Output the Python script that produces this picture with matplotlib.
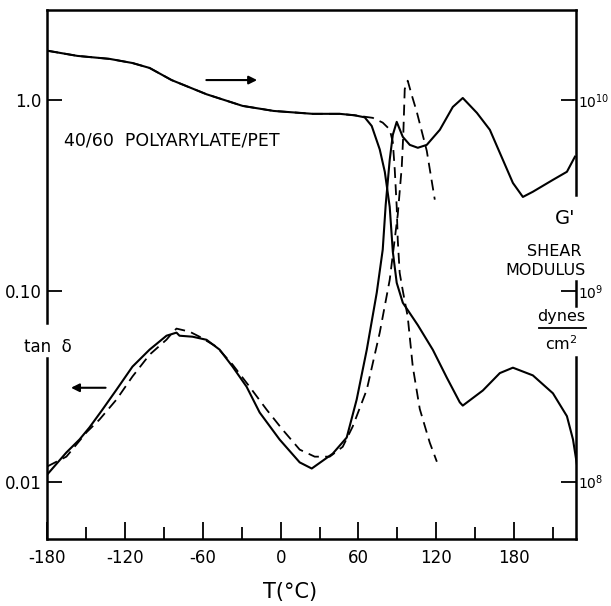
import numpy as np
import matplotlib
matplotlib.use('Agg')
import matplotlib.pyplot as plt
from matplotlib.ticker import FixedLocator, MultipleLocator, NullLocator

plt.rcParams['font.family'] = ['DejaVu Sans']

# tan delta, solid curve
T_tan_s = [-180.1, -165.4, -155.3, -147.6, -137.6, -126.7, -114.4, -101.2, -88.1, -80.4,
           -78.1, -68.0, -57.2, -47.1, -37.1, -26.3, -16.2, -0.8, 14.7, 24.0,
           40.2, 51.0, 58.7, 66.5, 74.2, 78.8, 81.1, 84.2, 86.6, 89.6,
           94.3, 99.7, 105.9, 112.8, 122.9, 132.9, 140.6, 151.5, 161.5, 169.2,
           179.3, 187.0, 194.7, 210.2, 221.0, 227.2]
tan_s = [0.0109, 0.0142, 0.0166, 0.0192, 0.0238, 0.0303, 0.0400, 0.0491, 0.0581, 0.0603,
         0.0581, 0.0574, 0.0553, 0.0491, 0.0400, 0.0314, 0.0230, 0.0166, 0.0126, 0.0117,
         0.0140, 0.0170, 0.0269, 0.0491, 0.0977, 0.164, 0.282, 0.485, 0.656, 0.767,
         0.640, 0.581, 0.561, 0.581, 0.697, 0.918, 1.023, 0.855, 0.697, 0.528,
         0.367, 0.310, 0.330, 0.381, 0.420, 0.504]

# tan delta, dashed curve
T_tan_d = [-180.1, -165.4, -149.9, -139.9, -126.7, -114.4, -101.2, -88.1, -83.5, -80.4,
           -70.3, -62.6, -49.5, -37.1, -24.0, -10.8, 1.5, 14.7, 26.3, 37.9,
           47.9, 55.6, 66.5, 76.5, 84.2, 90.4, 93.5, 94.7, 95.8, 98.1,
           101.2, 105.1, 112.8, 119.0]
tan_d = [0.0120, 0.0135, 0.0181, 0.0211, 0.0269, 0.0355, 0.0462, 0.0554, 0.0603, 0.0633,
         0.0610, 0.0574, 0.0509, 0.0410, 0.0314, 0.0238, 0.0187, 0.0147, 0.0135, 0.0135,
         0.0152, 0.0194, 0.0303, 0.0603, 0.114, 0.250, 0.446, 0.664, 1.14, 1.26,
         1.06, 0.865, 0.541, 0.300]

# shear modulus G' (dynes/cm2), solid curve
T_G_s = [-180.1, -156.9, -132.1, -114.4, -101.2, -84.2, -57.2, -29.4, -5.4, 24.7,
         45.6, 57.2, 64.9, 70.3, 76.5, 80.4, 84.2, 86.6, 89.6, 94.3,
         105.9, 117.5, 128.3, 138.3, 140.6, 156.1, 169.2, 179.3, 194.7, 210.2,
         221.0, 225.7, 228.7]
G_s = [1.81e10, 1.70e10, 1.64e10, 1.56e10, 1.47e10, 1.27e10, 1.07e10, 9.3e9, 8.75e9, 8.45e9,
       8.45e9, 8.3e9, 8.1e9, 7.3e9, 5.5e9, 4.2e9, 2.75e9, 1.6e9, 1.1e9, 8.65e8,
       6.6e8, 4.9e8, 3.5e8, 2.6e8, 2.5e8, 3.0e8, 3.7e8, 3.95e8, 3.6e8, 2.9e8,
       2.2e8, 1.66e8, 1.23e8]

# shear modulus G', dashed curve
T_G_d = [-180.1, -156.9, -132.1, -114.4, -101.2, -84.2, -57.2, -29.4, -5.4, 24.7,
         45.6, 57.2, 71.1, 78.8, 84.2, 86.6, 88.1, 89.6, 90.4, 91.9,
         94.3, 98.1, 102.0, 107.4, 115.1, 120.6]
G_d = [1.81e10, 1.70e10, 1.64e10, 1.56e10, 1.47e10, 1.27e10, 1.07e10, 9.3e9, 8.75e9, 8.45e9,
       8.45e9, 8.3e9, 8.05e9, 7.6e9, 7.0e9, 6.0e9, 4.3e9, 2.75e9, 1.85e9, 1.24e9,
       1.0e9, 7.3e8, 4.0e8, 2.4e8, 1.6e8, 1.27e8]

xticks = [-180, -120, -60, 0, 60, 120, 180]
xticklabels = ['-180', '-120', '-60', '0', '60', '120', '180']
tan_ticks = [0.01, 0.1, 1.0]
tan_ticklabels = ['0.01', '0.10', '1.0']
G_ticks = [1e8, 1e9, 1e10]
G_ticklabels = ['$\\mathregular{10^8}$', '$\\mathregular{10^9}$', '$\\mathregular{10^{10}}$']

fig = plt.figure(figsize=(6.11, 6.06), dpi=100)
ax = fig.add_axes([0.0777, 0.1106, 0.865, 0.873])
ax2 = ax.twinx()

ax.plot(T_tan_s, tan_s, color='black', lw=1.5)
ax.plot(T_tan_d, tan_d, color='black', lw=1.3, linestyle=(0, (6, 3.5)))
ax2.plot(T_G_s, G_s, color='black', lw=1.5)
ax2.plot(T_G_d, G_d, color='black', lw=1.3, linestyle=(0, (6, 3.5)))

ax.set_yscale('log')
ax2.set_yscale('log')
ax.set_xlim(-180, 228)
ax.set_ylim(0.005, 2.96)
ax2.set_ylim(5e7, 2.96e10)

ax.xaxis.set_major_locator(FixedLocator(xticks))
ax.set_xticklabels(xticklabels, fontsize=12)
ax.xaxis.set_minor_locator(MultipleLocator(30))
ax.yaxis.set_major_locator(FixedLocator(tan_ticks))
ax.yaxis.set_minor_locator(NullLocator())
ax.set_yticklabels(tan_ticklabels, fontsize=12)
ax2.yaxis.set_major_locator(FixedLocator(G_ticks))
ax2.yaxis.set_minor_locator(NullLocator())
ax2.set_yticklabels(G_ticklabels, fontsize=10)

ax.tick_params(axis='x', which='major', direction='in', length=12, width=1.3, pad=7)
ax.tick_params(axis='x', which='minor', direction='in', length=8.5, width=1.3)
ax.tick_params(axis='y', which='major', direction='in', length=10.5, width=1.3, pad=4)
ax2.tick_params(axis='y', which='major', direction='in', length=10.5, width=1.3, pad=1.5)

for s in ['left', 'right']:
    ax.spines[s].set_visible(False)
for s in ax2.spines.values():
    s.set_visible(False)
ax.spines['top'].set_linewidth(1.8)
ax.spines['bottom'].set_linewidth(1.8)

# broken side spines (gaps behind the labels)
for x0, y0, y1 in [(0, 1.0, 0.408), (0, 0.342, 0.0),
                   (1, 1.0, 0.650), (1, 0.488, 0.440), (1, 0.344, 0.0)]:
    ax.plot([x0, x0], [y0, y1], transform=ax.transAxes, color='black', lw=1.8,
            clip_on=False, solid_capstyle='projecting')

ax.text(-167, 0.61, '40/60  POLYARYLATE/PET', fontsize=12.5, ha='left', va='center')
ax.annotate('', xy=(-16, 1.27), xytext=(-59.5, 1.27),
            arrowprops=dict(arrowstyle='-|>', color='black', lw=1.5, mutation_scale=12))
ax.annotate('', xy=(-164, 0.031), xytext=(-133, 0.031),
            arrowprops=dict(arrowstyle='-|>', color='black', lw=1.5, mutation_scale=12))
ax.text(0.0, 0.363, 'tan  δ', transform=ax.transAxes, fontsize=12, ha='center', va='center')

ax.text(0.979, 0.605, "G'", transform=ax.transAxes, fontsize=14, ha='center', va='center')
ax.text(0.958, 0.5425, 'SHEAR', transform=ax.transAxes, fontsize=11.5, ha='center', va='center')
ax.text(0.943, 0.508, 'MODULUS', transform=ax.transAxes, fontsize=11.5, ha='center', va='center')
ax.text(0.972, 0.4197, 'dynes', transform=ax.transAxes, fontsize=11.5, ha='center', va='center')
ax.plot([0.930, 1.019], [0.399, 0.399], transform=ax.transAxes, color='black', lw=1.3,
        clip_on=False)
ax.text(0.972, 0.3686, 'cm$\\mathregular{^2}$', transform=ax.transAxes, fontsize=11.5,
        ha='center', va='center')

ax.text(0.459, -0.100, 'T(°C)', transform=ax.transAxes, fontsize=15, ha='center', va='center')

fig.savefig('out.png', dpi=100)
